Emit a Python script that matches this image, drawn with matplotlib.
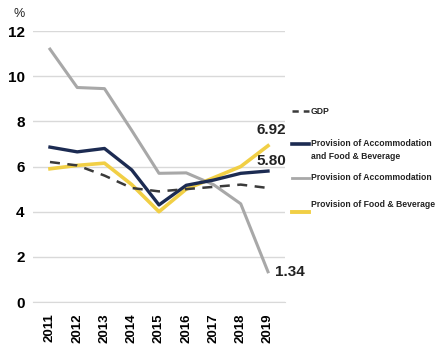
import matplotlib
matplotlib.use('Agg')
import matplotlib.pyplot as plt
from matplotlib.lines import Line2D

plt.rcParams['font.family'] = ['Liberation Sans', 'DejaVu Sans']

years = ['2011', '2012', '2013', '2014', '2015', '2016', '2017', '2018', '2019']
gdp = [6.2, 6.05, 5.6, 5.05, 4.9, 5.0, 5.1, 5.2, 5.05]
accom_fb = [6.86, 6.65, 6.8, 5.85, 4.3, 5.17, 5.4, 5.7, 5.80]
accom = [11.2, 9.5, 9.45, 7.6, 5.7, 5.72, 5.2, 4.35, 1.34]
food_bev = [5.9, 6.05, 6.15, 5.2, 4.0, 5.0, 5.5, 6.0, 6.92]

navy = '#1c2b52'
grey = '#a8a8a8'
yellow = '#f1cf45'
gdp_col = '#3a3a3a'

fig = plt.figure(figsize=(4.41, 3.57), dpi=100)
ax = fig.add_axes([0.075, 0.154, 0.571, 0.759])

x = range(len(years))
ax.plot(x, accom, color=grey, lw=2.2, zorder=3)
ax.plot(x, food_bev, color=yellow, lw=2.6, zorder=4)
ax.plot(x, accom_fb, color=navy, lw=2.4, zorder=5)
ax.plot(x, gdp, color=gdp_col, lw=1.8, ls=(0, (4, 3)), zorder=6)

ax.set_ylim(0, 12)
ax.set_xlim(-0.62, 8.62)
ax.set_yticks([0, 2, 4, 6, 8, 10, 12])
ax.set_xticks(list(x))
ax.set_xticklabels(years, rotation=90, fontsize=9.5, fontweight='bold')
for lab in ax.get_yticklabels():
    lab.set_fontsize(11)
    lab.set_fontweight('bold')
ax.tick_params(length=0, pad=6)
ax.tick_params(axis='x', pad=8)
ax.grid(axis='y', color='#d9d9d9', lw=1)
ax.set_axisbelow(True)
for s in ['top', 'right', 'left']:
    ax.spines[s].set_visible(False)
ax.spines['bottom'].set_color('#d9d9d9')

# end labels
ax.annotate(f'{food_bev[-1]:.2f}', (8, food_bev[-1]), xytext=(-8.6, 11),
            textcoords='offset points', fontsize=11, fontweight='bold',
            color='#222222', va='center', ha='left')
ax.annotate(f'{accom_fb[-1]:.2f}', (8, accom_fb[-1]), xytext=(-8.6, 7),
            textcoords='offset points', fontsize=11, fontweight='bold',
            color='#222222', va='center', ha='left')
ax.annotate(f'{accom[-1]:.2f}', (8, accom[-1]), xytext=(5, 0),
            textcoords='offset points', fontsize=11, fontweight='bold',
            color='#222222', va='center', ha='left')

fig.text(14 / 441, 1 - 14 / 357, '%', fontsize=9, ha='left', va='center', color='#222222')

# legend, drawn by hand
entries = [
    ('GDP', gdp_col, (0, (2.5, 2)), 1.8, 111, 111),
    ('Provision of Accommodation\nand Food & Beverage', navy, '-', 2.6, 144, 150),
    ('Provision of Accommodation', grey, '-', 2.0, 178, 178),
    ('Provision of Food & Beverage', yellow, '-', 2.8, 212, 205),
]
for label, col, ls, lw, y_line, y_text in entries:
    fig.add_artist(Line2D([292 / 441, 309 / 441], [1 - y_line / 357] * 2,
                          color=col, ls=ls, lw=lw))
    fig.text(311 / 441, 1 - y_text / 357, label, fontsize=6.2, fontweight='bold',
             color='#222222', va='center', ha='left', linespacing=1.6)

fig.savefig('out.png', dpi=100)
